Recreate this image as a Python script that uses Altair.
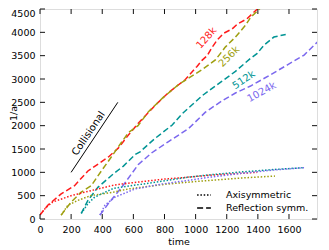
import altair as alt
import pandas as pd

# ---- data ----
res_names = ["128k", "256k", "512k", "1024k"]
res_colors = ["#ff1a1a", "#9f9f10", "#009494", "#7b68ee"]
kinds = ["Axisymmetric", "Reflection symm."]

# Reflection symm. (dashed)
t_ref_128 = [0, 50, 136, 222, 308, 385, 440, 503, 568, 630, 698, 760, 826, 880, 934, 1009, 1041, 1074, 1106, 1140, 1180, 1235, 1270, 1330, 1390, 1410]
a_ref_128 = [84, 294, 539, 714, 1029, 1204, 1330, 1519, 1799, 2044, 2289, 2500, 2709, 2850, 2988, 3270, 3400, 3500, 3680, 3840, 3980, 4074, 4180, 4290, 4480, 4560]
t_ref_256 = [136, 200, 265, 329, 394, 448, 525, 568, 630, 697, 790, 891, 970, 1041, 1127, 1192, 1256, 1320, 1353, 1410, 1425]
a_ref_256 = [84, 364, 574, 714, 1029, 1280, 1650, 1850, 2000, 2300, 2600, 2883, 3050, 3198, 3408, 3689, 3899, 4150, 4319, 4500, 4560]
t_ref_512 = [265, 308, 372, 469, 536, 611, 643, 740, 848, 912, 1041, 1170, 1256, 1353, 1396, 1439, 1503, 1579]
a_ref_512 = [119, 399, 679, 959, 1134, 1380, 1440, 1729, 2009, 2250, 2639, 2954, 3164, 3444, 3549, 3724, 3899, 3954]
t_ref_1024 = [385, 439, 525, 632, 719, 826, 955, 1063, 1170, 1256, 1353, 1482, 1590, 1697, 1783]
a_ref_1024 = [84, 329, 679, 1169, 1420, 1659, 1939, 2289, 2534, 2700, 2849, 3093, 3303, 3513, 3794]

# Axisymmetric (dotted)
t_axi_128 = [0, 40, 82, 200, 330, 480, 600, 800, 930, 1100, 1250, 1396]
a_axi_128 = [100, 250, 364, 500, 610, 730, 780, 855, 890, 940, 970, 1000]
t_axi_256 = [136, 179, 243, 329, 469, 568, 805, 934, 1100, 1300, 1510]
a_axi_256 = [84, 294, 399, 504, 574, 644, 745, 784, 830, 880, 920]
t_axi_512 = [265, 308, 351, 475, 600, 805, 934, 1100, 1300, 1500, 1700]
a_axi_512 = [119, 329, 469, 660, 720, 819, 889, 950, 1010, 1060, 1100]
t_axi_1024 = [385, 417, 482, 611, 783, 934, 1100, 1300, 1500, 1700]
a_axi_1024 = [84, 294, 469, 644, 749, 819, 900, 980, 1050, 1100]

# Collisional reference line
t_coll = [200, 500]
a_coll = [1000, 2500]

# curve labels
lab_t = [1070, 1215, 1310, 1425]
lab_a = [3880, 3480, 2980, 2720]
lab_angle = [312, 315, 326, 331]

x_ticks = [0, 200, 400, 600, 800, 1000, 1200, 1400, 1600]
y_ticks = [0, 500, 1000, 1500, 2000, 2500, 3000, 3500, 4000, 4500]
x_dom = [0, 1780]
y_dom = [0, 4500]

W, H = 277, 210
FONT = "DejaVu Sans"
FS = 9.5

rows = []
series = {
    ("128k", "Reflection symm."): (t_ref_128, a_ref_128),
    ("256k", "Reflection symm."): (t_ref_256, a_ref_256),
    ("512k", "Reflection symm."): (t_ref_512, a_ref_512),
    ("1024k", "Reflection symm."): (t_ref_1024, a_ref_1024),
    ("128k", "Axisymmetric"): (t_axi_128, a_axi_128),
    ("256k", "Axisymmetric"): (t_axi_256, a_axi_256),
    ("512k", "Axisymmetric"): (t_axi_512, a_axi_512),
    ("1024k", "Axisymmetric"): (t_axi_1024, a_axi_1024),
}
for (r, k), (ts, As) in series.items():
    for t, a in zip(ts, As):
        rows.append({"time": t, "inva": a, "res": r, "kind": k, "sid": r + k})
df = pd.DataFrame(rows)

xs = alt.Scale(domain=x_dom, nice=False, zero=False)
ys = alt.Scale(domain=y_dom, nice=False, zero=False)

def x_axis():
    return alt.Axis(
        values=x_ticks, format="d", labelOverlap=False, labelFlush=False,
        ticks=False, tickSize=0, domain=False, grid=False,
        labelFontSize=FS, labelFont=FONT, labelColor="black", labelPadding=5,
        title="time", titleFontSize=FS, titleFont=FONT, titleFontWeight="normal",
        titleColor="black", titlePadding=3)

def y_axis():
    return alt.Axis(
        values=y_ticks, format="d", labelOverlap=False, labelFlush=False,
        ticks=False, tickSize=0, domain=False, grid=False,
        labelFontSize=FS, labelFont=FONT, labelColor="black", labelPadding=5,
        labelOffset={"condition": {"test": "datum.value == 4500", "value": 4}, "value": 0},
        title="1/a", titleFontSize=FS, titleFont=FONT, titleFontWeight="normal",
        titleColor="black", titleX=-22, titleY=104)

def X(field):
    return alt.X(field, scale=xs, axis=x_axis(), title="time")

def Y(field):
    return alt.Y(field, scale=ys, axis=y_axis(), title="1/a")

lines = alt.Chart(df).mark_line(strokeWidth=1.5, clip=True).encode(
    x=X("time:Q"),
    y=Y("inva:Q"),
    color=alt.Color("res:N", scale=alt.Scale(domain=res_names, range=res_colors), legend=None),
    strokeDash=alt.StrokeDash("kind:N", scale=alt.Scale(domain=kinds, range=[[1.5, 1.8], [6, 3]]),
        legend=alt.Legend(orient="none", legendX=156, legendY=178, title=None,
                          symbolType="stroke", symbolStrokeColor="black",
                          symbolStrokeWidth=1.5, symbolSize=190, labelFontSize=FS,
                          labelFont=FONT, labelColor="black", labelOffset=14,
                          rowPadding=0, padding=0)),
    detail="sid:N",
    order="time:Q",
)

coll_df = pd.DataFrame({"time": t_coll, "inva": a_coll})
coll = alt.Chart(coll_df).mark_line(color="black", strokeWidth=1).encode(
    x=X("time:Q"), y=Y("inva:Q"))

coll_txt = alt.Chart(pd.DataFrame({"time": [312], "inva": [1830], "txt": ["Collisional"]})).mark_text(
    angle=304, fontSize=10, font=FONT, color="black").encode(
    x=X("time:Q"), y=Y("inva:Q"), text="txt:N")

lab_layers = []
for name, col, t, a, ang in zip(res_names, res_colors, lab_t, lab_a, lab_angle):
    lab_layers.append(alt.Chart(pd.DataFrame({"time": [t], "inva": [a], "txt": [name]})).mark_text(
        angle=ang, fontSize=10, font=FONT, color=col).encode(
        x=X("time:Q"), y=Y("inva:Q"), text="txt:N"))

xt = pd.DataFrame({"time": x_ticks})
yt = pd.DataFrame({"inva": y_ticks})
tick_style = dict(color="#111111", strokeWidth=1)
ticks_bottom = alt.Chart(xt).mark_rule(**tick_style).encode(
    x=X("time:Q"), y=alt.value(H), y2=alt.value(H - 5))
ticks_top = alt.Chart(xt).mark_rule(**tick_style).encode(
    x=X("time:Q"), y=alt.value(0), y2=alt.value(5))
ticks_left = alt.Chart(yt).mark_rule(**tick_style).encode(
    y=Y("inva:Q"), x=alt.value(0), x2=alt.value(5))
ticks_right = alt.Chart(yt).mark_rule(**tick_style).encode(
    y=Y("inva:Q"), x=alt.value(W - 5), x2=alt.value(W))

chart = alt.layer(lines, coll, coll_txt, *lab_layers,
                  ticks_bottom, ticks_top, ticks_left, ticks_right).properties(
    width=W, height=H, padding={"left": 0, "top": 0, "right": 0, "bottom": 0}
).configure_view(stroke="#a8a8a8", strokeWidth=1.5).configure(background="white")

chart.save("out.html", embed_options={"renderer": "svg", "actions": False})
